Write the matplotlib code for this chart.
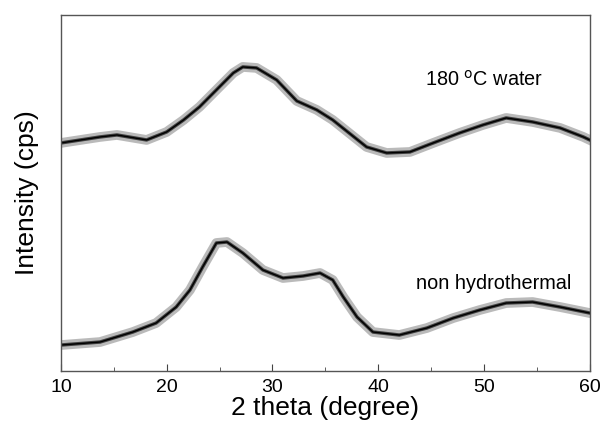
import matplotlib.pyplot as plt
import numpy as np

plt.rcParams['font.family'] = ['Liberation Sans', 'DejaVu Sans']

# 2 theta positions (degree)
theta_water = [10, 13.7, 15.3, 18.1, 20, 21.6, 23.1, 24.7, 26.3, 27.2, 28.5,
               30.4, 32.3, 34.2, 35.7, 38.9, 40.8, 43, 45.2, 47.7, 49.9,
               52.1, 54.6, 57.2, 59.4, 60]
# intensity (arbitrary, offset already applied)
int_water = [228, 234, 236, 231, 239, 251, 264, 281, 298, 304, 303,
             291, 270, 261, 251, 224, 218, 219, 228, 238, 246,
             253, 249, 243, 234, 231]

theta_non = [10, 13.7, 16.8, 19, 20.9, 22.2, 23.4, 24.7, 25.7, 27.2, 29.1,
             31, 32.9, 34.5, 35.7, 36.7, 38, 39.5, 42, 44.6, 47.1, 49.6,
             52.1, 54.6, 57.2, 60]
int_non = [26, 29, 39, 48, 64, 81, 104, 128, 129, 118, 101,
           93, 95, 98, 91, 74, 54, 39, 36, 43, 53, 61,
           68, 69, 64, 58]

labels = ['180 $^{\\rm o}$C water', 'non hydrothermal']

fig = plt.figure(figsize=(6.03, 4.26), dpi=100)
ax = fig.add_axes([0.101, 0.129, 0.877, 0.836])

for th, it in [(theta_water, int_water), (theta_non, int_non)]:
    ax.plot(th, it, color='#777777', linewidth=7, alpha=0.5, solid_joinstyle='round')
    ax.plot(th, it, color='#222222', linewidth=2.5, alpha=0.8)
    ax.plot(th, it, color='black', linewidth=1.0)

ax.text(44.4, 291, labels[0], fontsize=14.3, va='center', ha='left')
ax.text(43.6, 88, labels[1], fontsize=14.3, va='center', ha='left')

ax.set_xlim(10, 60)
ax.set_ylim(0, 356)
ax.set_xticks(np.arange(10, 61, 10))
ax.set_xticks(np.arange(15, 60, 10), minor=True)
ax.set_yticks([])
ax.tick_params(axis='x', which='major', direction='in', length=5, labelsize=14,
               color='#444444', pad=6)
ax.tick_params(axis='x', which='minor', direction='in', length=3, color='#444444')
for s in ax.spines.values():
    s.set_color('#555555')
    s.set_linewidth(1.0)

ax.set_xlabel('2 theta (degree)', fontsize=19, labelpad=0)
ax.set_ylabel('Intensity (cps)', fontsize=19, labelpad=16)

fig.savefig('out.png', dpi=100)
